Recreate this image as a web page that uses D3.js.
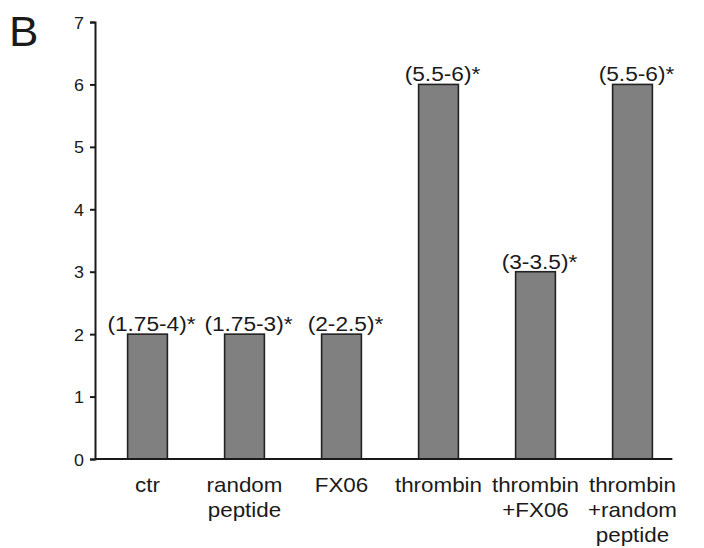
<!DOCTYPE html>
<html lang="en">
<head>
<meta charset="utf-8">
<title>Panel B</title>
<script src="https://d3js.org/d3.v7.min.js"></script>
<style>
  body { margin: 0; background: #fff; }
  svg { display: block; }
  text { font-family: "Liberation Sans", Arial, sans-serif; fill: #1a1a1a; }
</style>
</head>
<body>
<svg id="chart" width="704" height="548"></svg>
<script>
// data
var groups = ["ctr", "random peptide", "FX06", "thrombin", "thrombin +FX06", "thrombin +random peptide"];
var groupLines = [["ctr"], ["random", "peptide"], ["FX06"], ["thrombin"], ["thrombin", "+FX06"], ["thrombin", "+random", "peptide"]];
var scores = [2, 2, 2, 6, 3, 6];
var ranges = ["(1.75-4)*", "(1.75-3)*", "(2-2.5)*", "(5.5-6)*", "(3-3.5)*", "(5.5-6)*"];
var yTicks = [0, 1, 2, 3, 4, 5, 6, 7];

var stretch = 1.12;  // the original glyphs are a bit wide

var svg = d3.select("#chart");

var x = d3.scaleBand()
    .domain(groups)
    .range([99, 681])
    .paddingInner(0.59)
    .paddingOuter(0.295);

var y = d3.scaleLinear()
    .domain([0, 7])
    .range([459, 22]);

var axisX = 95;

// panel letter
svg.append("text")
    .attr("transform", "translate(9,46) scale(1.05,1)")
    .style("font-size", "42px")
    .text("B");

// y axis
var yAxis = d3.axisLeft(y)
    .tickValues(yTicks)
    .tickFormat(d3.format("d"))
    .tickSize(5)
    .tickSizeOuter(5)
    .tickPadding(6);

var gy = svg.append("g")
    .attr("transform", "translate(" + axisX + ",0)")
    .call(yAxis);

gy.select(".domain").attr("stroke", "#1a1a1a").attr("stroke-width", 2);
gy.selectAll(".tick line").attr("stroke", "#1a1a1a").attr("stroke-width", 2);
gy.selectAll(".tick text")
    .attr("x", null)
    .attr("dy", null)
    .attr("transform", "translate(-11,6) scale(" + stretch + ",1)")
    .style("font-size", "16px")
    .style("font-family", null)
    .attr("fill", "#1a1a1a");

// bars
svg.append("g")
    .selectAll("rect")
    .data(scores)
    .enter()
    .append("rect")
    .attr("x", (d, i) => x(groups[i]))
    .attr("y", d => y(d))
    .attr("width", x.bandwidth())
    .attr("height", d => y(0) - y(d))
    .attr("fill", "#808080")
    .attr("stroke", "#222")
    .attr("stroke-width", 1.6);

// baseline
svg.append("line")
    .attr("x1", axisX)
    .attr("x2", x(groups[groups.length - 1]) + x.bandwidth() + 20)
    .attr("y1", y(0))
    .attr("y2", y(0))
    .attr("stroke", "#1a1a1a")
    .attr("stroke-width", 2);

// range labels above bars
svg.append("g")
    .selectAll("text")
    .data(ranges)
    .enter()
    .append("text")
    .attr("text-anchor", "middle")
    .attr("transform", (d, i) => "translate(" + (x(groups[i]) + x.bandwidth() / 2 + 4) + "," + (y(scores[i]) - 3) + ") scale(1.08,1)")
    .style("font-size", "21px")
    .text(d => d);

// category labels
var cat = svg.append("g")
    .selectAll("text")
    .data(groupLines)
    .enter()
    .append("text")
    .attr("text-anchor", "middle")
    .attr("transform", (d, i) => "translate(" + (x(groups[i]) + x.bandwidth() / 2) + ",492) scale(" + stretch + ",1)")
    .style("font-size", "20px");

cat.selectAll("tspan")
    .data(d => d)
    .enter()
    .append("tspan")
    .attr("x", 0)
    .attr("dy", (d, j) => j === 0 ? 0 : 25)
    .text(d => d);
</script>
</body>
</html>
